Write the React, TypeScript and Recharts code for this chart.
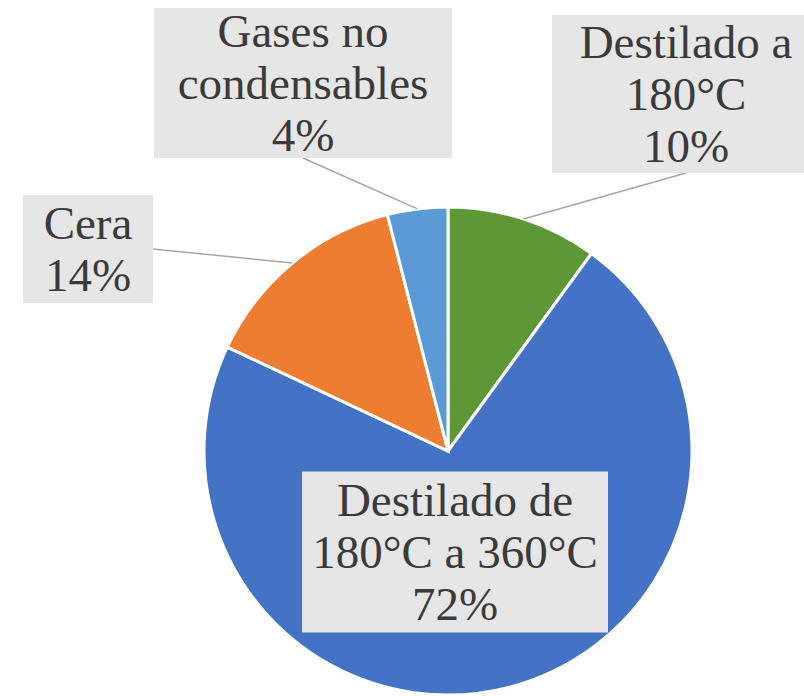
import { PieChart, Pie, Cell } from "recharts";

// fracciones de productos, en orden horario desde las 12
const categories = [
  "Destilado a 180°C",
  "Destilado de 180°C a 360°C",
  "Cera",
  "Gases no condensables",
];
const values = [10, 72, 14, 4];
// etiquetas partidas en renglones como en la hoja original
const labelLines = [
  ["Destilado a", "180°C"],
  ["Destilado de", "180°C a 360°C"],
  ["Cera"],
  ["Gases no", "condensables"],
];
const colors = ["#5E9735", "#4472C4", "#ED7D31", "#5B9BD5"];

// caja de cada etiqueta: centro relativo al centro de la torta, ancho y alto
const labelBoxes = [
  { dx: 238, dy: -357, w: 268, h: 158 },
  { dx: 7, dy: 101, w: 306, h: 161 },
  { dx: -360, dy: -202, w: 130, h: 108 },
  { dx: -145, dy: -368, w: 298, h: 150 },
];

const data = categories.map((name, i) => ({ name, value: values[i] }));

const RAD = Math.PI / 180;
const LINE_H = 52;
const SERIF = '"Liberation Serif", "Times New Roman", Times, serif';

function renderLabel(props: any) {
  const { cx, cy, midAngle, outerRadius, percent, index } = props;
  const box = labelBoxes[index];
  const bx = cx + box.dx;
  const by = cy + box.dy;
  const left = bx - box.w / 2;
  const top = by - box.h / 2;
  const lines = [...labelLines[index], `${Math.round(percent * 100)}%`];

  // punto sobre el borde del sector
  const px = cx + outerRadius * Math.cos(-midAngle * RAD);
  const py = cy + outerRadius * Math.sin(-midAngle * RAD);
  const inside =
    px > left && px < left + box.w && py > top && py < top + box.h;
  const dist = Math.hypot(px - bx, py - by);

  let ax = bx;
  let ay = top + box.h;
  if (py <= top + box.h) {
    ax = px < bx ? left : left + box.w;
    ay = by;
  }

  const showLine = !inside && dist > outerRadius * 0.6;
  const firstY = by - ((lines.length - 1) * LINE_H) / 2;

  return (
    <g key={`lbl-${index}`}>
      {showLine && (
        <line x1={ax} y1={ay} x2={px} y2={py} stroke="#A6A6A6" strokeWidth={1.5} />
      )}
      <rect x={left} y={top} width={box.w} height={box.h} fill="#E7E6E6" />
      <text
        x={bx}
        textAnchor="middle"
        fill="#3A3A3A"
        style={{ fontFamily: SERIF, fontSize: 47 }}
      >
        {lines.map((t, i) => (
          <tspan key={i} x={bx} y={firstY + i * LINE_H} dominantBaseline="central">
            {t}
          </tspan>
        ))}
      </text>
    </g>
  );
}

export default function App() {
  return (
    <div style={{ position: "absolute", left: 0, top: 0, width: 804, height: 696, overflow: "hidden", background: "#fff" }}>
      <PieChart width={804} height={696} margin={{ top: 0, right: 0, bottom: 0, left: 0 }}>
        <Pie
          data={data}
          dataKey="value"
          nameKey="name"
          cx={448}
          cy={451}
          outerRadius={244}
          startAngle={90}
          endAngle={-270}
          stroke="#FFFFFF"
          strokeWidth={3}
          label={renderLabel}
          labelLine={false}
          isAnimationActive={false}
        >
          {data.map((d, i) => (
            <Cell key={d.name} fill={colors[i]} />
          ))}
        </Pie>
      </PieChart>
    </div>
  );
}
